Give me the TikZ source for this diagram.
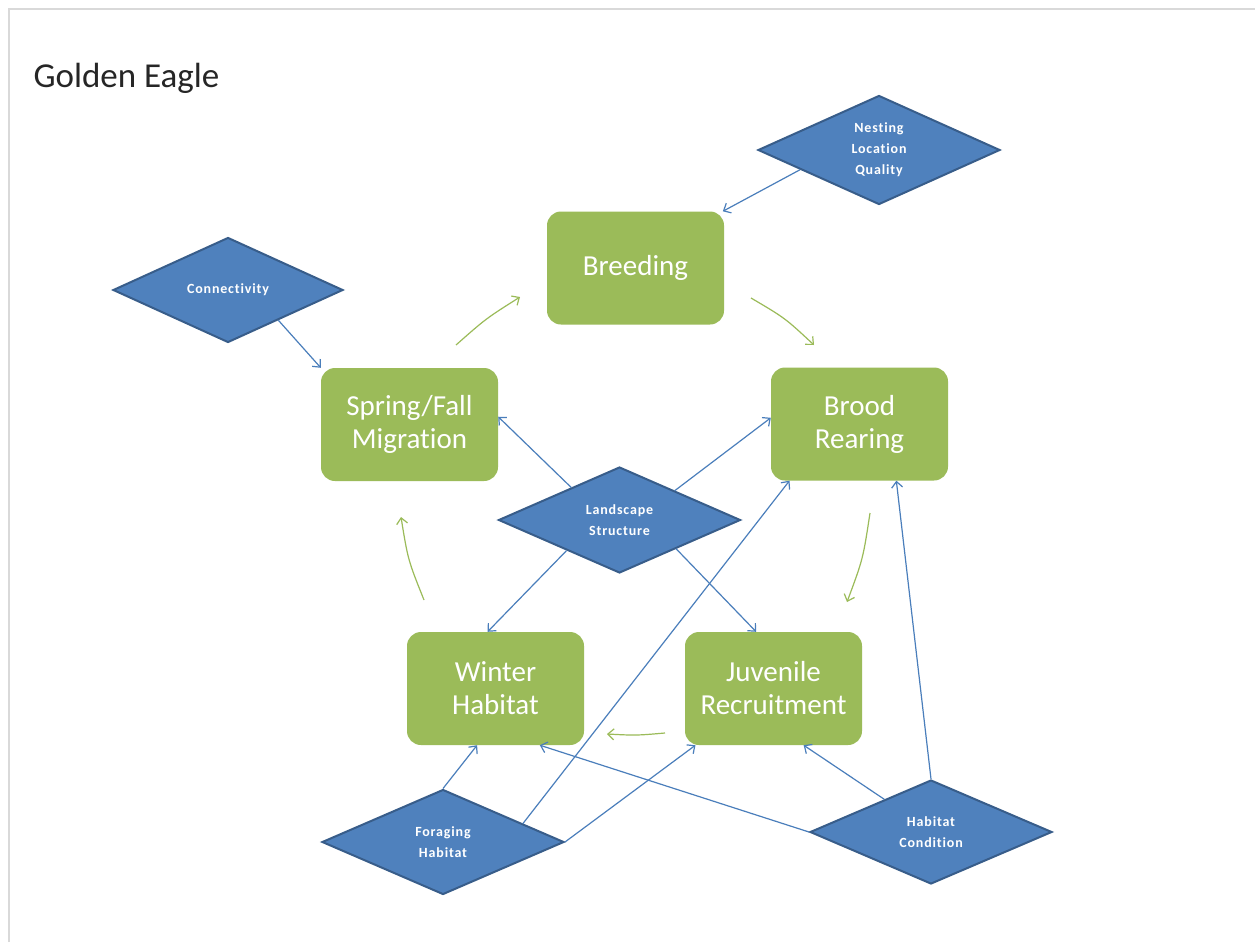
\documentclass[tikz,border=0pt]{standalone}
\usepackage{fontspec}
\setmainfont{Carlito}[Ligatures={NoCommon}]
\usetikzlibrary{shapes.geometric,arrows.meta}
\definecolor{boxgreen}{HTML}{9BBB59}
\definecolor{dfill}{HTML}{4F81BD}
\definecolor{dline}{HTML}{385D8A}
\definecolor{ablue}{HTML}{4A7EBB}
\definecolor{frame}{HTML}{D9D9D9}
\tikzset{
  stage/.style={rectangle, rounded corners=14pt, fill=boxgreen, draw=none,
    minimum width=177pt, minimum height=113pt, inner sep=0pt, align=center,
    text=white, font=\fontsize{29}{33}\selectfont},
  factor/.style={diamond, fill=dfill, draw=dline, line width=2pt,
    minimum width=242pt, minimum height=106pt, inner sep=0pt, align=center,
    text=white, font=\bfseries\fontsize{14}{21}\selectfont\addfontfeature{LetterSpace=6}},
  barrow/.style={draw=ablue, line width=1.2pt, -{Straight Barb[length=6pt,width=11pt]}},
  garrow/.style={draw=boxgreen, line width=1.2pt, -{Straight Barb[length=6pt,width=11pt]}}
}
\begin{document}
\begin{tikzpicture}[x=1pt,y=-1pt]
\useasboundingbox (0,0) rectangle (1255,942);
\fill[white] (0,0) rectangle (1255,942);
\draw[frame, line width=2pt] (9,942) -- (9,9) -- (1255,9);

\node[anchor=west, text=black!85, font=\fontsize{35}{40}\selectfont] (title) at (30,78) {Golden Eagle};

\node[stage] (breed)  at (635.5,268)   {Breeding};
\node[stage] (spring) at (409.5,424.5) {Spring/Fall\\Migration};
\node[stage] (brood)  at (859.5,424)   {Brood\\Rearing};
\node[stage] (winter) at (495.5,688.5) {Winter\\Habitat};
\node[stage] (juv)    at (773.5,688.5) {Juvenile\\Recruitment};

\node[factor] (nlq)    at (879,150) {Nesting\\Location\\Quality};
\node[factor, minimum width=230pt, minimum height=105pt] (conn) at (228,290) {Connectivity};
\node[factor] (land)   at (619.5,520) {Landscape\\Structure};
\node[factor, minimum height=105pt] (forage) at (443,842) {Foraging\\Habitat};
\node[factor, minimum height=104pt] (hcond)  at (931,832) {Habitat\\Condition};

% blue influence arrows
\draw[barrow] (nlq.194) -- (breed.33);
\draw[barrow] (conn.-31) -- (spring.north west);
\draw[barrow] (land.146) -- (spring.5);
\draw[barrow] (land.28) -- (brood.176);
\draw[barrow] (land.210) -- (winter.98);
\draw[barrow] (land.-27.5) -- (juv.107);
\draw[barrow] (forage.north) -- (winter.252);
\draw[barrow] (forage.13) -- (brood.219);
\draw[barrow] (forage.east) -- (juv.216);
\draw[barrow] (hcond.north) -- (brood.-57.6);
\draw[barrow] (hcond.145) -- (juv.-62);
\draw[barrow] (hcond.west) -- (winter.-52);

% green life-cycle arrows
\coordinate (g1s) at (456,345); \coordinate (g1e) at (520,297);
\coordinate (g2s) at (751,298); \coordinate (g2e) at (814,345);
\coordinate (g3s) at (870,513); \coordinate (g3e) at (847,602);
\coordinate (g4s) at (665,733); \coordinate (g4e) at (607,734);
\coordinate (g5s) at (424,600); \coordinate (g5e) at (401,517);
\draw[garrow] (g1s) .. controls (486,318.5) .. (g1e);
\draw[garrow] (g2s) .. controls (785,318) .. (g2e);
\draw[garrow] (g3s) .. controls (863,559) .. (g3e);
\draw[garrow] (g4s) .. controls (636,735.5) .. (g4e);
\draw[garrow] (g5s) .. controls (408,560) .. (g5e);
\end{tikzpicture}
\end{document}
